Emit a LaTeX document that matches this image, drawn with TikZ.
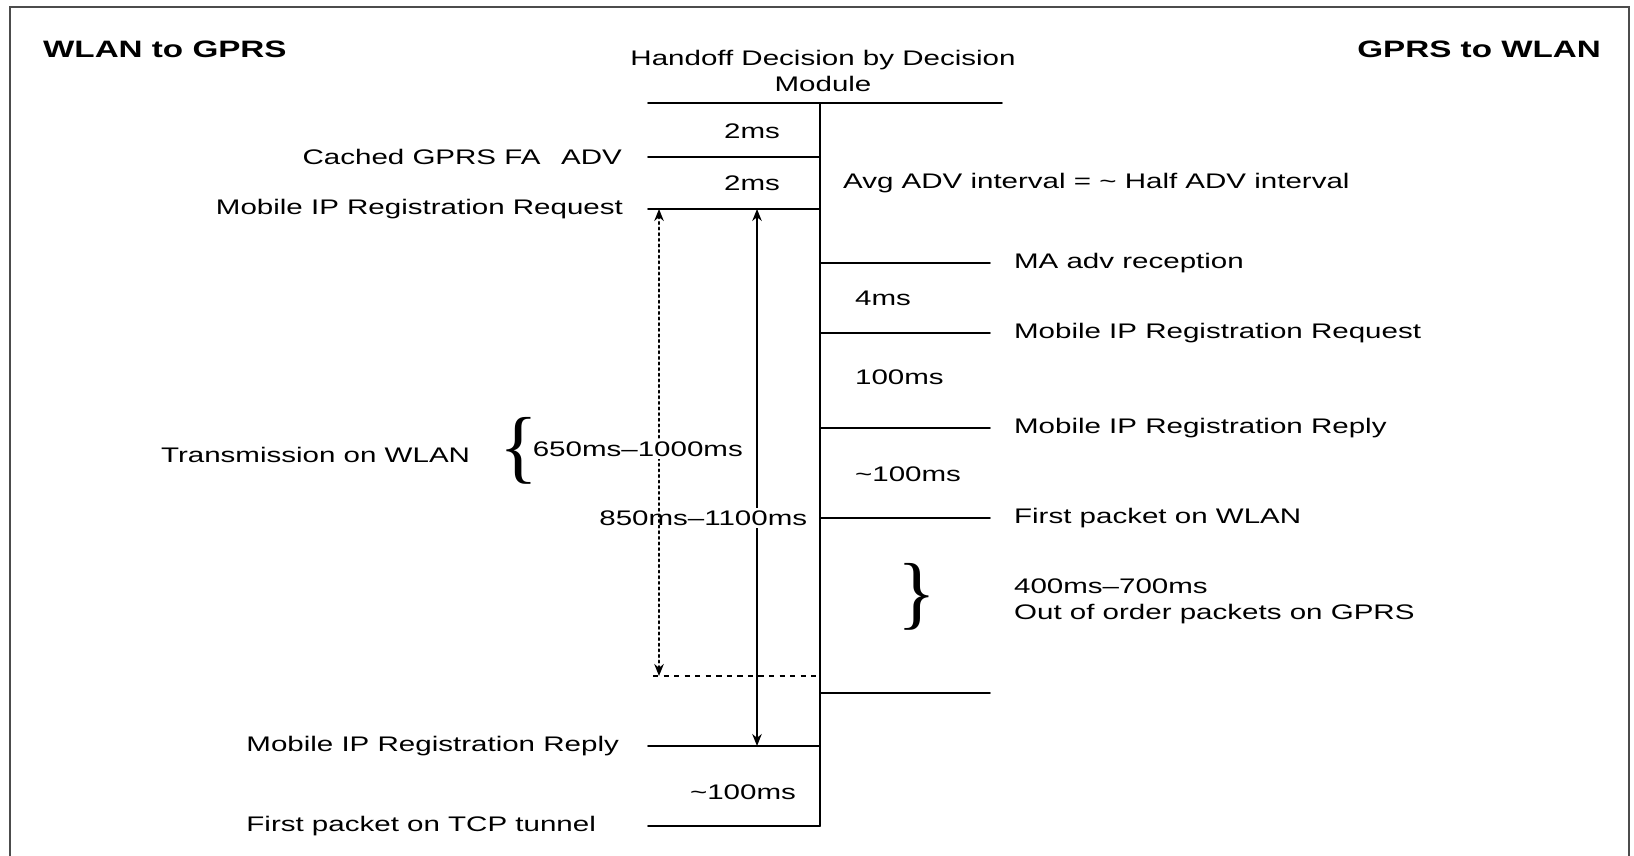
\documentclass[tikz,border=0pt]{standalone}
\usepackage{fontspec}
\setmainfont{Liberation Sans}
\newfontfamily\bracefont{Liberation Serif}
\usetikzlibrary{arrows.meta}

\tikzset{
  lbl/.style={xscale=1.4,inner sep=0pt},
  head/.style={lbl,font=\bfseries\fontsize{13.5}{16}\selectfont},
  brc/.style={inner sep=0pt,font=\bracefont\fontsize{46}{46}\selectfont},
  gap/.style={lbl,fill=white,inner sep=1.5pt}
}

\begin{document}
\begin{tikzpicture}[>={Stealth[length=2.4mm,width=1.9mm]},font=\fontsize{12}{14.8}\selectfont,line cap=round,line width=0.9pt]
\useasboundingbox (0,0) rectangle (32.68,17.12);
\draw[black!70,line width=1.4pt,line cap=butt] (0.2,0) -- (0.2,16.98) -- (32.58,16.98) -- (32.58,0);
% time axis
\coordinate (top) at (16.4,15.06);
\coordinate (bot) at (16.4,0.6);
\draw (top) -- (bot);
\draw (12.96,15.06) coordinate (tl) -- (20.04,15.06) coordinate (tr);
\foreach \y/\n in {13.98/adv,12.94/req,2.2/rep,0.6/tcp}
  \draw (12.96,\y) coordinate (l\n) -- (16.4,\y);
\foreach \y/\n in {11.86/ma,10.46/req,8.56/rep,6.76/wlan,3.26/end}
  \draw (16.4,\y) -- (19.8,\y) coordinate (r\n);
\draw[dashed,line cap=butt,line width=0.8pt] (13.06,3.6) coordinate (ldash) -- (16.4,3.6);
\coordinate (xd) at (13.18,0);
\coordinate (xs) at (15.14,0);
% titles
\node[head,anchor=west] (wg) at (0.84,16.14) {WLAN to GPRS};
\node[head,anchor=east] (gw) at (32.04,16.14) {GPRS to WLAN};
\node[lbl,align=center] (hd) at (16.46,15.7) {Handoff Decision by Decision\\Module};
% WLAN to GPRS side
\node[lbl,anchor=east] (cadv) at (12.46,13.98) {Cached GPRS FA\hspace{0.7em}ADV};
\node[lbl,anchor=east] (mreq) at (12.48,12.94) {Mobile IP Registration Request};
\node[lbl,anchor=east] (mrep) at (12.4,2.2) {Mobile IP Registration Reply};
\node[lbl,anchor=west] (ftcp) at (mrep.west |- ltcp) {First packet on TCP tunnel};
\node[lbl] (t2a) at (15.04,14.5) {2ms};
\node[lbl] (t2b) at (15.04,13.46) {2ms};
\node[lbl] (t100c) at (14.86,1.28) {\textasciitilde100ms};
\node[lbl,anchor=west] (tx) at (3.2,8.02) {Transmission on WLAN};
\node[brc] (bl) at (10.38,8.1) {\{};
\draw[<->] (lreq -| xs) -- (lrep -| xs);
\node[gap,anchor=east] (r850) at (16.24,6.76) {850ms--1100ms};
\draw[<->,dotted,line width=1.2pt] (lreq -| xd) -- (ldash -| xd);
\node[gap,anchor=west] (r650) at (10.56,8.14) {650ms--1000ms};
% GPRS to WLAN side
\node[lbl,anchor=west] (avg) at (16.84,13.46) {Avg ADV interval = \textasciitilde{} Half ADV interval};
\node[lbl,anchor=west] (tma) at (20.26,11.86) {MA adv reception};
\node[lbl,anchor=west] (t4) at (17.08,11.16) {4ms};
\node[lbl,anchor=west] (treq) at (20.26,10.46) {Mobile IP Registration Request};
\node[lbl,anchor=west] (t100) at (17.08,9.58) {100ms};
\node[lbl,anchor=west] (trep) at (20.26,8.56) {Mobile IP Registration Reply};
\node[lbl,anchor=west] (t100b) at (17.08,7.64) {\textasciitilde100ms};
\node[lbl,anchor=west] (twlan) at (20.26,6.76) {First packet on WLAN};
\node[brc] (br) at (18.34,5.18) {\}};
\node[lbl,anchor=west,align=left] (oop) at (20.26,5.09) {400ms--700ms\\Out of order packets on GPRS};
\end{tikzpicture}
\end{document}
